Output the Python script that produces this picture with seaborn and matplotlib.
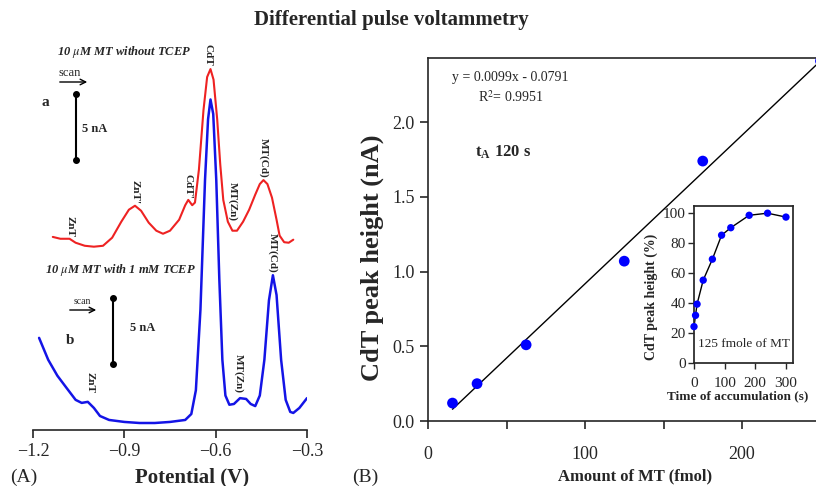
import matplotlib
matplotlib.use("Agg")
import numpy as np
import pandas as pd
import matplotlib.pyplot as plt
import seaborn as sns

# ---------------- data ----------------
# panel A, trace a (10 uM MT without TCEP), potential (V) and current (nA, offset)
pot_a = [-1.135, -1.11, -1.08, -1.06, -1.03, -1.00, -0.97, -0.94, -0.91, -0.885,
         -0.865, -0.845, -0.82, -0.795, -0.773, -0.75, -0.72, -0.70, -0.69, -0.677,
         -0.668, -0.655, -0.64, -0.628, -0.617, -0.607, -0.595, -0.585, -0.575, -0.56,
         -0.545, -0.53, -0.51, -0.49, -0.47, -0.455, -0.443, -0.43, -0.415, -0.40,
         -0.39, -0.375, -0.36, -0.345]
cur_a = [14.0, 13.86, 13.86, 13.56, 13.33, 13.26, 13.33, 13.94, 15.15, 16.06,
         16.36, 15.98, 15.08, 14.47, 14.24, 14.47, 15.3, 16.4, 16.8, 16.4,
         16.6, 19.1, 23.6, 26.1, 26.7, 25.9, 22.9, 19.5, 16.8, 15.15,
         14.47, 14.47, 15.15, 16.06, 17.2, 18.0, 18.3, 18.0, 16.97, 15.3,
         14.1, 13.6, 13.56, 13.79]

# trace b (10 uM MT with 1 mM TCEP)
pot_b = [-1.18, -1.15, -1.12, -1.09, -1.06, -1.04, -1.02, -1.00, -0.98, -0.95,
         -0.90, -0.85, -0.80, -0.75, -0.70, -0.68, -0.665, -0.65, -0.635, -0.625,
         -0.617, -0.608, -0.598, -0.588, -0.578, -0.568, -0.555, -0.54, -0.52, -0.50,
         -0.485, -0.47, -0.455, -0.44, -0.425, -0.412, -0.40, -0.385, -0.37, -0.355,
         -0.345, -0.325, -0.30]
cur_b = [6.36, 4.7, 3.5, 2.58, 1.67, 1.44, 1.52, 1.06, 0.45, 0.15,
         0.0, -0.08, -0.08, 0.0, 0.15, 0.6, 2.4, 8.5, 18.3, 22.9,
         24.4, 23.3, 18.3, 10.8, 4.7, 2.0, 1.3, 1.36, 1.8, 1.74,
         1.36, 1.2, 2.0, 4.7, 9.2, 11.1, 9.6, 4.7, 1.67, 0.76,
         0.68, 1.06, 1.8]

# panel B, calibration
amount_mt = [15.6, 31.25, 62.5, 125, 175, 250]
cdt_height = [0.12, 0.25, 0.51, 1.07, 1.74, 2.41]

# inset, accumulation time
acc_time = [0, 5, 10, 30, 60, 90, 120, 180, 240, 300]
cdt_pct = [24.5, 32, 39.5, 55.5, 69.5, 85.5, 90.5, 98.8, 100.2, 97.6]

peak_labels = ["ZnT", "ZnT'", "CdT'", "CdT", "MT(Zn)", "MT(Cd)", "MT(Cd)", "ZnT", "MT(Zn)"]
peak_pot = [-1.078, -0.865, -0.691, -0.625, -0.543, -0.444, -0.412, -1.013, -0.523]
peak_cur = [14.77, 17.4, 17.8, 27.8, 16.7, 20.0, 12.8, 2.95, 3.7]

RED = "#ee2222"
BLUE = "#1414e6"
DOT = "#0000ff"

sns.set_theme(style="ticks")
plt.rcParams["font.family"] = ["Liberation Serif", "DejaVu Serif"]
plt.rcParams["mathtext.fontset"] = "stix"

W, H = 816, 486


def fx(x):
    return x / W


def fy(y):
    return 1 - y / H


fig = plt.figure(figsize=(8.16, 4.86), dpi=100)

# ---------------- panel A ----------------
axA = fig.add_axes([fx(33), fy(430), fx(307) - fx(33), fy(40) - fy(430)])
df_a = pd.DataFrame({"V": pot_a, "I": cur_a})
df_b = pd.DataFrame({"V": pot_b, "I": cur_b})
sns.lineplot(data=df_a, x="V", y="I", ax=axA, color=RED, lw=1.5, estimator=None, sort=False)
sns.lineplot(data=df_b, x="V", y="I", ax=axA, color=BLUE, lw=1.8, estimator=None, sort=False)
axA.set_xlim(-1.2, -0.3)
axA.set_ylim(-0.61, 28.9)
for s in ["top", "right", "left"]:
    axA.spines[s].set_visible(False)
axA.spines["bottom"].set_linewidth(1.2)
axA.set_yticks([])
axA.set_xticks([-1.2, -0.9, -0.6, -0.3])
axA.set_xticklabels(["\u22121.2", "\u22120.9", "\u22120.6", "\u22120.3"])
axA.tick_params(axis="x", direction="out", length=6, width=1.2, labelsize=13, pad=3)
axA.set_xlabel("")
axA.set_ylabel("")

for lab, v, i in zip(peak_labels, peak_pot, peak_cur):
    axA.text(v, i, lab, rotation=270, ha="center", va="center", fontsize=8,
             fontweight="bold")

# 5 nA scale bars
for xv, y0 in [(-1.059, 19.85), (-0.937, 4.39)]:
    axA.plot([xv, xv], [y0, y0 + 5], color="black", lw=1.5, marker="o", ms=4)

fig.text(fx(57), fy(52), "10 $\\mu$M MT without TCEP", fontsize=9, style="italic",
         fontweight="bold", ha="left", va="center")
fig.text(fx(45), fy(270), "10 $\\mu$M MT with 1 mM TCEP", fontsize=9, style="italic",
         fontweight="bold", ha="left", va="center")
fig.text(fx(70), fy(73), "scan", fontsize=9, ha="center", va="center")
fig.text(fx(82), fy(302), "scan", fontsize=7, ha="center", va="center")
for x0, x1, y in [(57, 90, 82), (67, 99, 310)]:
    fig.add_artist(matplotlib.patches.FancyArrowPatch(
        (fx(x0), fy(y)), (fx(x1), fy(y)), transform=fig.transFigure,
        arrowstyle="->", mutation_scale=10, lw=1, color="black"))
fig.text(fx(45), fy(103), "a", fontsize=11, fontweight="bold", ha="center", va="center")
fig.text(fx(70), fy(340), "b", fontsize=11, fontweight="bold", ha="center", va="center")
fig.text(fx(82), fy(129), "5 nA", fontsize=9, fontweight="bold", ha="left", va="center")
fig.text(fx(130), fy(328), "5 nA", fontsize=9, fontweight="bold", ha="left", va="center")
fig.text(fx(10), fy(477), "(A)", fontsize=14, ha="left", va="center")
fig.text(fx(192), fy(477), "Potential (V)", fontsize=15, fontweight="bold",
         ha="center", va="center")

fig.text(fx(391), fy(20), "Differential pulse voltammetry", fontsize=15, fontweight="bold",
         ha="center", va="center")

# ---------------- panel B ----------------
axB = fig.add_axes([fx(428), fy(421), fx(820.5) - fx(428), fy(58) - fy(421)])
df_cal = pd.DataFrame({"amount": amount_mt, "height": cdt_height})
sns.regplot(data=df_cal, x="amount", y="height", ax=axB, scatter=False, ci=None,
            line_kws={"color": "black", "lw": 1})
sns.scatterplot(data=df_cal, x="amount", y="height", ax=axB, color=DOT, s=60,
                edgecolor="none", clip_on=False, zorder=5)
axB.set_xlim(0, 250)
axB.set_ylim(0, 2.43)
axB.set_xticks([0, 100, 200])
axB.set_xticks([50, 150, 250], minor=True)
axB.set_yticks([0.0, 0.5, 1.0, 1.5, 2.0])
axB.set_yticklabels(["0.0", "0.5", "1.0", "1.5", "2.0"])
axB.tick_params(axis="both", which="both", direction="out", length=6, width=1.2,
                labelsize=13)
axB.tick_params(axis="x", pad=12)
for s in axB.spines.values():
    s.set_linewidth(1.2)
axB.set_xlabel("Amount of MT (fmol)", fontsize=12, fontweight="bold")
axB.xaxis.set_label_coords((635 - 428) / 392.5, -(468 - 421) / 363)
axB.set_ylabel("CdT peak height (nA)", fontsize=19, fontweight="bold")
axB.yaxis.set_label_coords((384 - 428) / 392.5, (421 - 258) / 363)
axB.text(15, 2.3, "y = 0.0099x - 0.0791", fontsize=10, ha="left", va="center")
axB.text(32, 2.17, "R$^2$= 0.9951", fontsize=10, ha="left", va="center")
axB.text(30, 1.8, "t$_\\mathregular{A}$ 120 s", fontsize=12, fontweight="bold",
         ha="left", va="center")
fig.text(fx(352), fy(477), "(B)", fontsize=14, ha="left", va="center")

# ---------------- inset ----------------
axI = fig.add_axes([fx(694), fy(363.3), fx(793) - fx(694), fy(206) - fy(363.3)])
df_acc = pd.DataFrame({"t": acc_time, "pct": cdt_pct})
sns.lineplot(data=df_acc, x="t", y="pct", ax=axI, color="black", lw=1, estimator=None)
sns.scatterplot(data=df_acc, x="t", y="pct", ax=axI, color=DOT, s=28, edgecolor="none",
                clip_on=False, zorder=5)
axI.set_xlim(0, 323)
axI.set_ylim(0, 105)
axI.set_xticks([0, 100, 200, 300])
axI.set_yticks([0, 20, 40, 60, 80, 100])
axI.tick_params(axis="both", direction="out", length=4, width=1, labelsize=11, pad=2)
axI.tick_params(axis="x", pad=6)
axI.set_xlabel("Time of accumulation (s)", fontsize=9.5, fontweight="bold")
axI.xaxis.set_label_coords((737.5 - 694) / 99, -(390 - 363.3) / 157.3)
axI.set_ylabel("CdT peak height (%)", fontsize=10, fontweight="bold")
axI.yaxis.set_label_coords((658 - 694) / 99, (363.3 - 297) / 157.3)
axI.text(0.5, 0.12, "125 fmole of MT", transform=axI.transAxes, fontsize=9.5,
         ha="center", va="center")

fig.savefig("out.png", dpi=100)
